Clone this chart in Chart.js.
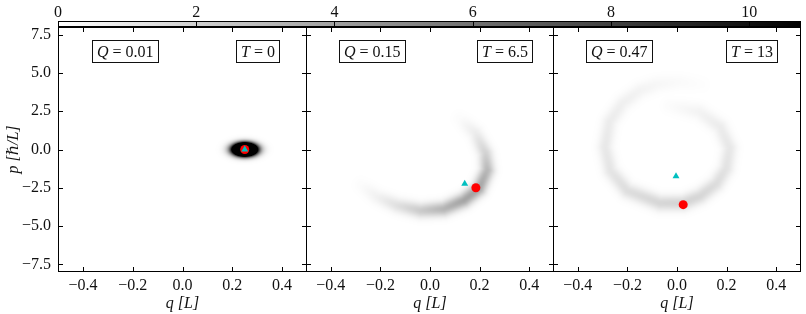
<!DOCTYPE html>
<html>
<head>
<meta charset="utf-8">
<script src="https://cdn.jsdelivr.net/npm/chart.js@4.4.1/dist/chart.umd.min.js"></script>
<style>
  body { margin: 0; background: #fff; width: 806px; height: 314px; position: relative; overflow: hidden; }
  canvas { position: absolute; top: 0; }
</style>
</head>
<body>
<canvas id="panel0" width="317" height="314" style="left:0px"></canvas>
<canvas id="panel1" width="316" height="314" style="left:248px"></canvas>
<canvas id="panel2" width="311" height="314" style="left:495px"></canvas>
<canvas id="cbar" width="806" height="23" style="left:0px;top:4px"></canvas>
<script>
// tick labels
const qTicks = [-0.4, -0.2, 0.0, 0.2, 0.4];
const pTicks = [-7.5, -5.0, -2.5, 0.0, 2.5, 5.0, 7.5];
const cbarTicks = [0, 2, 4, 6, 8, 10];
const cbarMax = 10.75;

// panel labels
const Qvalues = ['0.01', '0.15', '0.47'];
const Tvalues = ['0', '6.5', '13'];

// classical point (red) and quantum mean (cyan)
const classicalQ = [0.25, 0.185, 0.025];
const classicalP = [0.0, -2.5, -3.6];
const meanQ = [0.25, 0.14, -0.004];
const meanP = [0.0, -2.23, -1.75];

// density ridge along each panel: q, p and value
const ridgeQ0 = [0.25];
const ridgeP0 = [0.0];
const ridgeV0 = [50];

const ridgeQ1 = [0.12, 0.184, 0.224, 0.231, 0.197, 0.137, 0.056, -0.037, -0.131, -0.211, -0.278];
const ridgeP1 = [2.0, 1.05, -0.26, -1.36, -2.56, -3.32, -3.88, -3.99, -3.66, -3.11, -2.34];
const ridgeV1 = [0.15, 0.8, 1.9, 3.0, 3.8, 3.8, 3.1, 2.2, 1.3, 0.6, 0.15];

const ridgeQ2 = [-0.03, 0.09, 0.175, 0.212, 0.198, 0.158, 0.093, 0.024, -0.069, -0.2, -0.268, -0.29, -0.272, -0.22, -0.15, -0.08, 0.01, 0.1];
const ridgeP2 = [2.85, 2.45, 1.45, 0.1, -1.25, -2.25, -3.05, -3.5, -3.5, -2.7, -1.4, 0.15, 1.8, 3.0, 3.85, 4.25, 4.4, 4.25];
const ridgeV2 = [0.15, 0.5, 0.8, 1.0, 1.2, 1.45, 1.7, 1.8, 1.7, 1.4, 1.1, 0.95, 0.8, 0.65, 0.5, 0.35, 0.2, 0.08];

const ridges = [
  { q: ridgeQ0, p: ridgeP0, v: ridgeV0, sq: 0.03, sp: 0.26 },
  { q: ridgeQ1, p: ridgeP1, v: ridgeV1, sq: 0.02, sp: 0.33 },
  { q: ridgeQ2, p: ridgeP2, v: ridgeV2, sq: 0.021, sp: 0.35 }
];

const SERIF = "'Liberation Serif', 'DejaVu Serif', serif";
const fmt = v => (v < 0 ? '\u2212' : '') + Math.abs(v).toFixed(1);

// density image + text boxes + inward ticks and frame
const phasePlugin = {
  id: 'phase',
  beforeDatasetsDraw(chart, args, o) {
    const { ctx, chartArea: a, scales: { x, y } } = chart;
    const w = Math.round(a.right - a.left), h = Math.round(a.bottom - a.top);
    const img = ctx.createImageData(w, h);
    const r = o.ridge;
    const pts = r.q.map((q, k) => [q / r.sq, r.p[k] / r.sp, r.v[k]]);
    for (let j = 0; j < h; j++) {
      const pv = y.getValueForPixel(a.top + j + 0.5) / r.sp;
      for (let i = 0; i < w; i++) {
        const qv = x.getValueForPixel(a.left + i + 0.5) / r.sq;
        let best = 0;
        if (pts.length === 1) {
          const dq = qv - pts[0][0], dp = pv - pts[0][1];
          best = pts[0][2] * Math.exp(-(dq * dq + dp * dp) / 2);
        } else {
          for (let k = 0; k < pts.length - 1; k++) {
            const A = pts[k], B = pts[k + 1];
            const ex = B[0] - A[0], ey = B[1] - A[1];
            let t = ((qv - A[0]) * ex + (pv - A[1]) * ey) / (ex * ex + ey * ey);
            t = Math.max(0, Math.min(1, t));
            const dq = qv - (A[0] + t * ex), dp = pv - (A[1] + t * ey);
            const val = (A[2] + t * (B[2] - A[2])) * Math.exp(-(dq * dq + dp * dp) / 2);
            if (val > best) best = val;
          }
        }
        const g = Math.round(255 * (1 - Math.min(best / cbarMax, 1)));
        const idx = (j * w + i) * 4;
        img.data[idx] = img.data[idx + 1] = img.data[idx + 2] = g;
        img.data[idx + 3] = 255;
      }
    }
    ctx.putImageData(img, a.left, a.top);
  },
  afterDraw(chart, args, o) {
    const { ctx, chartArea: a, scales: { x, y } } = chart;
    ctx.save();
    // text boxes
    const yc = y.getPixelForValue(o.boxP);
    const drawBox = (sym, val, xPix, anchor) => {
      ctx.font = 'italic 16px ' + SERIF;
      const w1 = ctx.measureText(sym).width;
      ctx.font = '16px ' + SERIF;
      const w2 = ctx.measureText(' = ' + val).width;
      const bw = w1 + w2 + 9;
      const bx = anchor === 'left' ? xPix : xPix - bw / 2;
      const x0 = Math.round(bx) + 0.5, y0 = Math.round(yc - 11) + 0.5;
      ctx.fillStyle = '#fff';
      ctx.fillRect(x0, y0, Math.round(bw), 22);
      ctx.strokeStyle = '#111';
      ctx.lineWidth = 1;
      ctx.strokeRect(x0, y0, Math.round(bw), 22);
      ctx.fillStyle = '#111';
      ctx.textBaseline = 'middle';
      ctx.font = 'italic 16px ' + SERIF;
      ctx.fillText(sym, x0 + 4.5, yc + 1);
      ctx.font = '16px ' + SERIF;
      ctx.fillText(' = ' + val, x0 + 4.5 + w1, yc + 1);
    };
    drawBox('Q', o.Q, x.getPixelForValue(o.qBoxLeft), 'left');
    drawBox('T', o.T, x.getPixelForValue(o.tBoxCenter), 'center');
    // inward ticks
    ctx.strokeStyle = '#000';
    ctx.lineWidth = 1;
    ctx.beginPath();
    qTicks.forEach(v => {
      const px = Math.round(x.getPixelForValue(v)) + 0.5;
      ctx.moveTo(px, a.bottom); ctx.lineTo(px, a.bottom - 5);
      ctx.moveTo(px, a.top); ctx.lineTo(px, a.top + 5);
    });
    pTicks.forEach(v => {
      const py = Math.round(y.getPixelForValue(v)) + 0.5;
      ctx.moveTo(a.left, py); ctx.lineTo(a.left + 5, py);
      ctx.moveTo(a.right, py); ctx.lineTo(a.right - 5, py);
    });
    ctx.stroke();
    // frame
    ctx.strokeRect(a.left + 0.5, a.top + 0.5, a.right - a.left - 1, a.bottom - a.top - 1);
    ctx.restore();
  }
};

function makePanel(i, padRight) {
  const first = i === 0;
  return new Chart(document.getElementById('panel' + i), {
    type: 'scatter',
    data: {
      datasets: [
        {
          data: [{ x: meanQ[i], y: meanP[i] }],
          pointStyle: 'triangle', pointRadius: 4, pointBackgroundColor: '#00bfbf',
          pointBorderWidth: 0, order: 0
        },
        {
          data: [{ x: classicalQ[i], y: classicalP[i] }],
          pointStyle: 'circle', pointRadius: 4.5, pointBackgroundColor: '#ff0000',
          pointBorderWidth: 0, order: 1
        }
      ]
    },
    options: {
      responsive: false,
      animation: false,
      layout: { padding: { left: 0, right: padRight, top: 27, bottom: 0 } },
      plugins: {
        legend: { display: false },
        tooltip: { enabled: false },
        phase: {
          ridge: ridges[i], Q: Qvalues[i], T: Tvalues[i],
          qBoxLeft: -0.365, tBoxCenter: 0.3, boxP: 6.4
        }
      },
      scales: {
        x: {
          type: 'linear', min: -0.5, max: 0.5,
          afterBuildTicks: s => { s.ticks = qTicks.map(v => ({ value: v })); },
          afterFit: s => { s.height = 42; },
          grid: { display: false, drawTicks: false },
          border: { display: false },
          ticks: {
            autoSkip: false, maxRotation: 0, padding: 4, color: '#111',
            font: { family: SERIF, size: 16 },
            callback: v => fmt(v)
          },
          title: {
            display: true, text: 'q [L]', color: '#111',
            font: { family: SERIF, size: 16, style: 'italic' },
            padding: { top: 0, bottom: 1 }
          }
        },
        y: {
          type: 'linear', min: -8.0, max: 8.0,
          afterBuildTicks: s => { s.ticks = pTicks.map(v => ({ value: v })); },
          afterFit: s => { s.width = 58; },
          grid: { display: false, drawTicks: false },
          border: { display: false },
          ticks: {
            display: first, autoSkip: false, padding: 7, color: '#111',
            font: { family: SERIF, size: 16 },
            callback: v => fmt(v)
          },
          title: {
            display: first, text: 'p [\u210F/L]', color: '#111',
            font: { family: SERIF, size: 16, style: 'italic' },
            padding: { top: 4, bottom: 0 }
          }
        }
      }
    },
    plugins: [phasePlugin]
  });
}

makePanel(0, 10);
makePanel(1, 10);
makePanel(2, 5);

// colorbar across the top
const cbarPlugin = {
  id: 'cbarFill',
  beforeDatasetsDraw(chart) {
    const { ctx, chartArea: a, scales: { x } } = chart;
    const g = ctx.createLinearGradient(x.getPixelForValue(0), 0, x.getPixelForValue(cbarMax), 0);
    g.addColorStop(0, '#ffffff');
    g.addColorStop(1, '#000000');
    ctx.save();
    ctx.fillStyle = g;
    ctx.fillRect(a.left, a.top, a.right - a.left, a.bottom - a.top);
    ctx.strokeStyle = '#000';
    ctx.lineWidth = 1;
    ctx.beginPath();
    cbarTicks.forEach(v => {
      const px = Math.round(x.getPixelForValue(v)) + 0.5;
      ctx.moveTo(px, a.top); ctx.lineTo(px, a.bottom);
    });
    ctx.stroke();
    ctx.strokeRect(a.left + 0.5, a.top + 0.5, a.right - a.left - 1, a.bottom - a.top - 1);
    ctx.restore();
  }
};

new Chart(document.getElementById('cbar'), {
  type: 'scatter',
  data: { datasets: [] },
  options: {
    responsive: false,
    animation: false,
    layout: { padding: { left: 58, right: 5, top: 0, bottom: 0 } },
    plugins: { legend: { display: false }, tooltip: { enabled: false } },
    scales: {
      x: {
        type: 'linear', position: 'top', min: 0, max: cbarMax,
        afterBuildTicks: s => { s.ticks = cbarTicks.map(v => ({ value: v })); },
        afterFit: s => { s.height = 17; },
        grid: { display: false, drawTicks: false },
        border: { display: false },
        ticks: {
          autoSkip: false, maxRotation: 0, padding: 0, color: '#111',
          font: { family: SERIF, size: 16, lineHeight: 1.0 },
          callback: v => String(v)
        }
      },
      y: { display: false, min: 0, max: 1 }
    }
  },
  plugins: [cbarPlugin]
});
</script>
</body>
</html>
